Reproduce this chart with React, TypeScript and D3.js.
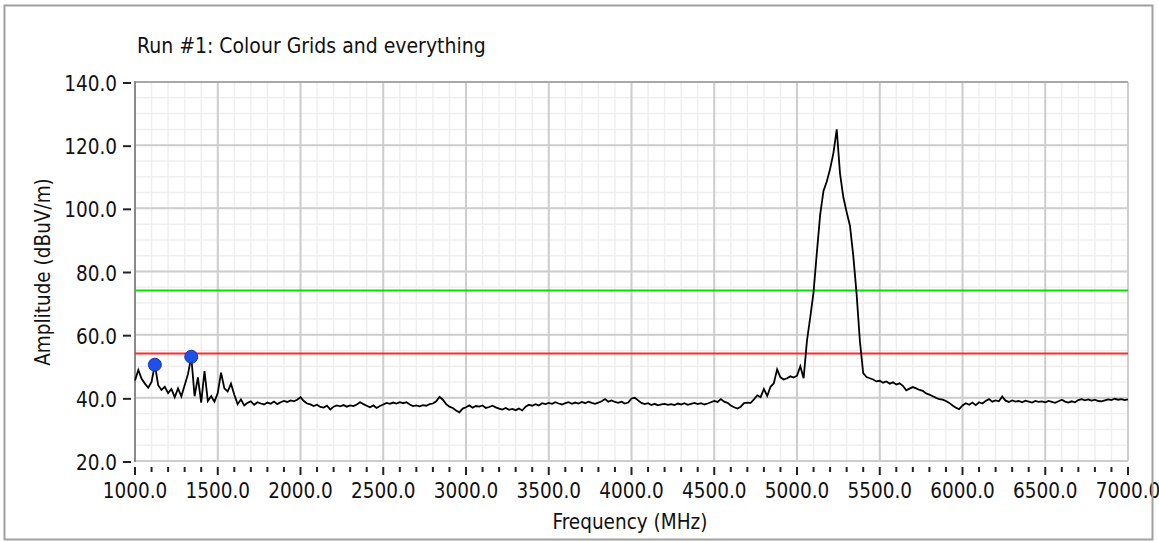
import React, { useEffect, useRef } from 'react'
import * as d3 from 'd3'

const title = 'Run #1: Colour Grids and everything'
const xLabel = 'Frequency (MHz)'
const yLabel = 'Amplitude (dBuV/m)'

// trace sampled every 20 MHz from 1000 MHz
const freqStart = 1000
const freqStep = 20
const amplitude = [
  45.5, 48.8, 46.0, 44.5, 43.2,
  45.0, 50.5, 44.0, 42.5, 43.5,
  41.5, 42.8, 40.2, 43.0, 40.5,
  44.0, 47.5, 53.0, 40.5, 46.5,
  38.5, 48.5, 39.0, 40.5, 38.8,
  41.5, 48.0, 43.0, 42.0, 44.5,
  41.0, 38.0, 39.5, 37.6, 38.4,
  38.9, 37.8, 38.6, 38.2, 37.9,
  38.5, 38.1, 38.8, 38.0, 38.6,
  39.0, 38.7, 39.2, 38.9, 39.4,
  40.2, 39.0, 38.2, 37.9, 37.4,
  37.8, 37.1, 36.9, 37.5, 36.3,
  37.2, 37.6, 37.3, 37.7, 37.2,
  37.6, 37.4, 37.9, 38.6, 38.0,
  37.5, 37.0, 37.6, 36.8, 37.4,
  37.9, 38.4, 38.1, 38.5, 38.2,
  38.6, 38.3, 38.6, 37.9, 37.4,
  37.6, 37.3, 37.7, 37.5, 38.0,
  38.2, 38.9, 40.3, 39.4, 38.0,
  37.2, 36.8, 36.0, 35.4, 36.6,
  37.0, 37.6, 36.9, 37.4, 37.2,
  37.6, 36.8, 37.1, 37.5, 37.0,
  36.6, 36.3, 36.8, 36.2, 36.5,
  36.1, 36.6, 36.0, 37.2, 37.8,
  37.5, 38.0, 37.6, 38.3, 38.0,
  38.4, 38.1, 38.6, 38.2, 37.9,
  38.3, 38.6, 38.1, 38.5, 38.2,
  38.7, 38.3, 38.8, 38.4, 38.1,
  38.5, 38.9, 39.6, 38.8, 39.2,
  38.7, 38.4, 38.8, 38.2, 38.5,
  39.8, 40.0, 39.2, 38.4, 38.0,
  38.3, 37.7, 38.1, 37.6, 37.9,
  38.1, 37.8, 38.0, 37.7, 38.2,
  37.9, 38.3, 37.8, 38.1, 38.4,
  38.0, 38.3, 37.9, 38.2, 38.6,
  39.0, 38.7, 39.6, 38.8, 38.4,
  37.6, 37.0, 36.6, 37.2, 38.3,
  38.5, 38.4, 39.5, 40.8, 40.2,
  42.8, 40.6, 43.5, 44.6, 49.0,
  46.5, 45.8, 46.2, 46.8, 46.4,
  47.0, 50.0, 46.2, 58.0, 65.5,
  73.5, 86.0, 98.0, 105.5, 108.5,
  112.5, 117.5, 125.0, 111.0, 103.5,
  98.8, 94.5, 85.0, 73.0, 58.0,
  47.8, 46.6, 46.2, 45.8, 45.2,
  45.4, 44.8, 45.2, 44.5, 44.9,
  44.2, 44.6, 43.8, 42.4, 42.9,
  43.4, 43.0, 42.5, 42.2, 41.4,
  41.0, 40.5, 40.0, 39.6, 39.4,
  39.0, 38.4, 37.6, 36.9, 36.4,
  37.6, 38.3, 37.8, 38.5, 37.7,
  38.6, 38.2, 39.0, 39.6, 38.8,
  39.2, 38.9, 40.4, 39.1, 38.7,
  39.2, 38.8, 39.0, 38.6, 39.1,
  38.8, 38.5, 39.0, 38.7, 38.9,
  38.6, 39.0, 38.7, 38.4, 38.9,
  39.4, 38.8, 38.5, 38.9, 38.6,
  39.3, 39.6, 39.2, 39.5, 39.1,
  39.4, 39.0, 38.9, 39.2, 39.5,
  39.3, 39.7, 39.4, 39.6, 39.3,
  39.5
]

const markerFreq = [1120, 1340]
const markerAmp = [50.5, 53.0]

const limitValues = [74, 54]
const limitColors = ['#00e400', '#ff2b2b']

const xMajorTicks = [1000, 1500, 2000, 2500, 3000, 3500, 4000, 4500, 5000, 5500, 6000, 6500, 7000]
const yMajorTicks = [20, 40, 60, 80, 100, 120, 140]

const W = 1159
const H = 542
const plot = { left: 135, right: 1128, top: 82, bottom: 461 }
const font = "'DejaVu Sans Condensed', 'Liberation Sans', sans-serif"

const Chart = () => {
  const ref = useRef<SVGSVGElement>(null)

  useEffect(() => {
    const svg = d3.select(ref.current)
    svg.selectAll('*').remove()

    const x = d3.scaleLinear().domain([1000, 7000]).range([plot.left, plot.right])
    const y = d3.scaleLinear().domain([20, 140]).range([plot.bottom, plot.top])

    svg.append('rect').attr('width', W).attr('height', H).attr('fill', '#fff')

    // minor grid
    const xMinor = d3.range(1000, 7001, 100)
    const yMinor = d3.range(20, 141, 5)
    const g = svg.append('g')
    g.selectAll('.vmin')
      .data(xMinor)
      .join('line')
      .attr('class', 'vmin')
      .attr('x1', d => x(d)).attr('x2', d => x(d))
      .attr('y1', plot.top).attr('y2', plot.bottom)
      .attr('stroke', '#efefef').attr('stroke-width', 1.5)
    g.selectAll('.hmin')
      .data(yMinor)
      .join('line')
      .attr('class', 'hmin')
      .attr('x1', plot.left).attr('x2', plot.right)
      .attr('y1', d => y(d)).attr('y2', d => y(d))
      .attr('stroke', '#efefef').attr('stroke-width', 1.5)

    // major grid
    g.selectAll('.vmaj')
      .data(xMajorTicks)
      .join('line')
      .attr('class', 'vmaj')
      .attr('x1', d => x(d)).attr('x2', d => x(d))
      .attr('y1', plot.top).attr('y2', plot.bottom)
      .attr('stroke', '#cdcdcd').attr('stroke-width', 2)
    g.selectAll('.hmaj')
      .data(yMajorTicks)
      .join('line')
      .attr('class', 'hmaj')
      .attr('x1', plot.left).attr('x2', plot.right)
      .attr('y1', d => y(d)).attr('y2', d => y(d))
      .attr('stroke', '#cdcdcd').attr('stroke-width', 2)

    // frame
    svg.append('line')
      .attr('x1', plot.left).attr('x2', plot.right)
      .attr('y1', plot.top).attr('y2', plot.top)
      .attr('stroke', '#a8a8a8').attr('stroke-width', 2)
    svg.append('line')
      .attr('x1', plot.left).attr('x2', plot.left)
      .attr('y1', plot.top - 1).attr('y2', plot.bottom + 1)
      .attr('stroke', '#8a8a8a').attr('stroke-width', 2)

    // limit lines
    svg.selectAll('.limit')
      .data(limitValues)
      .join('line')
      .attr('class', 'limit')
      .attr('x1', plot.left).attr('x2', plot.right)
      .attr('y1', d => y(d)).attr('y2', d => y(d))
      .attr('stroke', (d, i) => limitColors[i]).attr('stroke-width', 2)

    // trace
    const line = d3.line<number>()
      .x((d, i) => x(freqStart + i * freqStep))
      .y(d => y(d))
    svg.append('path')
      .attr('d', line(amplitude))
      .attr('fill', 'none')
      .attr('stroke', '#000')
      .attr('stroke-width', 1.8)

    // markers
    svg.selectAll('.marker')
      .data(markerFreq)
      .join('circle')
      .attr('class', 'marker')
      .attr('cx', d => x(d))
      .attr('cy', (d, i) => y(markerAmp[i]))
      .attr('r', 6.5)
      .attr('fill', '#1f4fe6')
      .attr('stroke', '#1436b8')
      .attr('stroke-width', 1)

    // y axis
    const yAx = svg.append('g')
    yAx.selectAll('line')
      .data(yMajorTicks)
      .join('line')
      .attr('x1', 123).attr('x2', 131)
      .attr('y1', d => y(d) + 1).attr('y2', d => y(d) + 1)
      .attr('stroke', '#222').attr('stroke-width', 2)
    yAx.selectAll('text')
      .data(yMajorTicks)
      .join('text')
      .attr('x', 117)
      .attr('y', d => y(d) + 9)
      .attr('text-anchor', 'end')
      .attr('font-family', font)
      .attr('font-size', 20.5)
      .attr('fill', '#111')
      .text(d => d3.format('.1f')(d))

    // x axis
    const xAx = svg.append('g')
    xAx.selectAll('line')
      .data(xMinor)
      .join('line')
      .attr('x1', d => x(d)).attr('x2', d => x(d))
      .attr('y1', 467)
      .attr('y2', d => (d % 500 === 0 ? 475 : 472))
      .attr('stroke', '#222').attr('stroke-width', 2)
    xAx.selectAll('text')
      .data(xMajorTicks)
      .join('text')
      .attr('x', d => x(d))
      .attr('y', 498)
      .attr('text-anchor', 'middle')
      .attr('font-family', font)
      .attr('font-size', 20.5)
      .attr('fill', '#111')
      .text(d => d3.format('.1f')(d))

    svg.append('text')
      .attr('x', 630).attr('y', 529)
      .attr('text-anchor', 'middle')
      .attr('font-family', font).attr('font-size', 20.5).attr('fill', '#111')
      .text(xLabel)
    svg.append('text')
      .attr('transform', 'translate(50,272) rotate(-90)')
      .attr('text-anchor', 'middle')
      .attr('font-family', font).attr('font-size', 20.5).attr('fill', '#111')
      .text(yLabel)
    svg.append('text')
      .attr('x', 137).attr('y', 53)
      .attr('font-family', font).attr('font-size', 21).attr('fill', '#111')
      .text(title)

    // outer border
    svg.append('rect')
      .attr('x', 4.5).attr('y', 5.5)
      .attr('width', 1148).attr('height', 534)
      .attr('fill', 'none')
      .attr('stroke', '#a0a0a0').attr('stroke-width', 2)
  }, [])

  return (
    <svg
      ref={ref}
      width={W}
      height={H}
      style={{ position: 'absolute', left: 0, top: 0, display: 'block' }}
    />
  )
}

const App = () => {
  return <Chart />
}

export default App
